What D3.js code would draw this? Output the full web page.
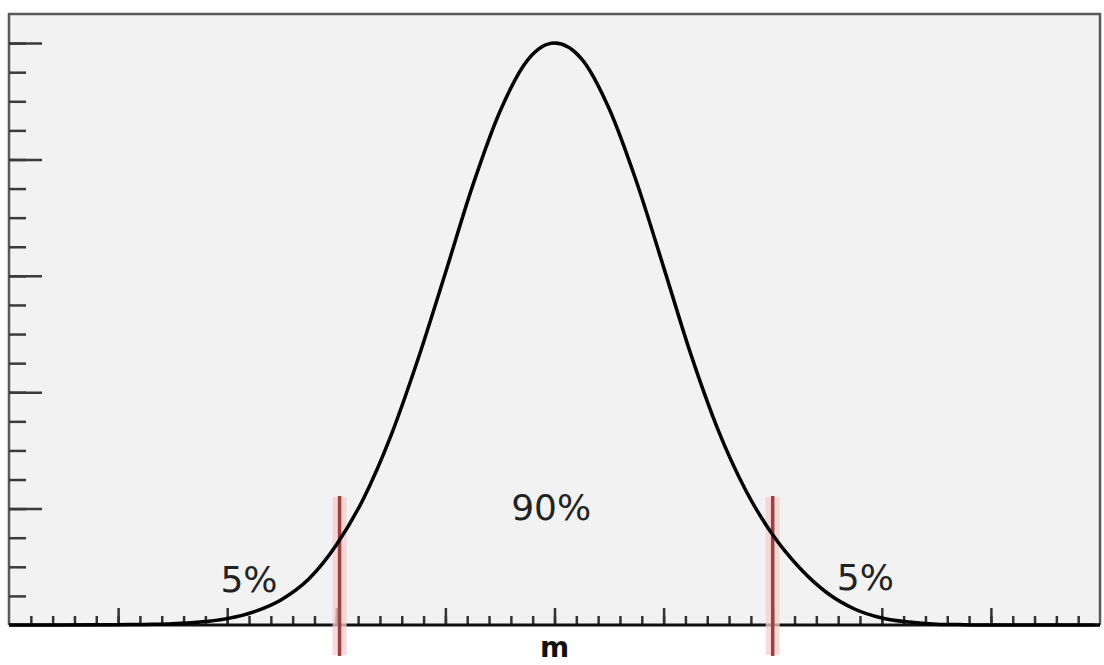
<!DOCTYPE html>
<html>
<head>
<meta charset="utf-8">
<script src="https://cdn.jsdelivr.net/npm/d3@7"></script>
<style>
  body { margin: 0; background: #fff; }
  svg { display: block; }
  text { font-family: "DejaVu Sans", sans-serif; }
</style>
</head>
<body>
<svg width="1104" height="665"></svg>
<script>
// curve (x in sigma units, y in tick units)
const curveX = [-5, -4.5, -4, -3.75, -3.5, -3.25, -3, -2.75, -2.5, -2.25, -2, -1.75, -1.5, -1.25, -1, -0.75, -0.5, -0.25, 0,
                0.25, 0.5, 0.75, 1, 1.25, 1.5, 1.75, 2, 2.25, 2.5, 2.75, 3, 3.25, 3.5, 3.75, 4, 4.5, 5];
const curveY = [0, 0, 0.01, 0.02, 0.04, 0.1, 0.22, 0.46, 0.88, 1.59, 2.75, 4.35, 6.5, 9.15, 12.1, 15.1, 17.65, 19.4, 20,
                19.45, 17.75, 15.25, 12.3, 9.3, 6.7, 4.65, 3.1, 1.95, 1.1, 0.55, 0.24, 0.1, 0.03, 0.01, 0, 0, 0];
const markerX = [-1.97, 2];
const areaLabels = ['5%', '90%', '5%'];
const labelX = [-2.8, -0.03, 2.85];
const labelY = [1.15, 3.6, 1.2];
const xMajorTicks = [-4, -3, -2, -1, 0, 1, 2, 3, 4];
const xMinorTicks = d3.range(-4.8, 5, 0.2).map(v => +v.toFixed(1));
const yMajorTicks = [4, 8, 12, 16, 20];
const yMinorTicks = d3.range(1, 21);
const centerLabel = 'm';

const svg = d3.select('svg');
const plot = { left: 9, right: 1100, top: 14, bottom: 625 };

const xScale = d3.scaleLinear().domain([-5, 5]).range([plot.left, plot.right]);
const yScale = d3.scaleLinear().domain([0, 21]).range([plot.bottom, plot.top]);

// plot background
svg.append('rect')
    .attr('x', plot.left).attr('y', plot.top)
    .attr('width', plot.right - plot.left).attr('height', plot.bottom - plot.top)
    .attr('fill', '#f2f2f2');

// frame
svg.append('path')
    .attr('d', `M${plot.left},${plot.bottom}V${plot.top}H${plot.right}V${plot.bottom}`)
    .attr('fill', 'none')
    .attr('stroke', '#5a5a5a')
    .attr('stroke-width', 2.5);

// y ticks pointing into the plot
const yAxisMinor = d3.axisRight(yScale).tickValues(yMinorTicks).tickSize(17).tickFormat('');
const yAxisMajor = d3.axisRight(yScale).tickValues(yMajorTicks).tickSize(33).tickFormat('');
[yAxisMinor, yAxisMajor].forEach(ax => {
    const g = svg.append('g').attr('transform', `translate(${plot.left}, 0)`).call(ax);
    g.select('.domain').remove();
    g.selectAll('line').attr('stroke', '#3a3a3a').attr('stroke-width', 2.5);
});

// x ticks pointing up from the baseline
const xAxisMinor = d3.axisTop(xScale).tickValues(xMinorTicks).tickSize(9).tickFormat('');
const xAxisMajor = d3.axisTop(xScale).tickValues(xMajorTicks).tickSize(17).tickFormat('');
[xAxisMinor, xAxisMajor].forEach(ax => {
    const g = svg.append('g').attr('transform', `translate(0, ${plot.bottom})`).call(ax);
    g.select('.domain').remove();
    g.selectAll('line').attr('stroke', '#333').attr('stroke-width', 2.5);
});

// baseline
svg.append('line')
    .attr('x1', plot.left).attr('x2', plot.right - 5)
    .attr('y1', plot.bottom).attr('y2', plot.bottom)
    .attr('stroke', '#111')
    .attr('stroke-width', 3);

// red cut-off markers
const markers = svg.append('g');
markers.selectAll('rect').data(markerX)
    .enter().append('rect')
    .attr('x', d => xScale(d) - 7)
    .attr('y', 497)
    .attr('width', 14)
    .attr('height', 158)
    .attr('fill', '#f7cccc')
    .attr('opacity', 0.75);
markers.selectAll('line').data(markerX)
    .enter().append('line')
    .attr('x1', d => xScale(d)).attr('x2', d => xScale(d))
    .attr('y1', 496).attr('y2', 656)
    .attr('stroke', '#9e4040')
    .attr('stroke-width', 3.5);

// density curve
const line = d3.line()
    .x((d, i) => xScale(curveX[i]))
    .y(d => yScale(d))
    .curve(d3.curveMonotoneX);

svg.append('path')
    .datum(curveY)
    .attr('d', line)
    .attr('fill', 'none')
    .attr('stroke', '#000')
    .attr('stroke-width', 3.5)
    .attr('stroke-linejoin', 'round');

// percentage labels
svg.selectAll('.area-label').data(areaLabels)
    .enter().append('text')
    .attr('class', 'area-label')
    .attr('x', (d, i) => xScale(labelX[i]))
    .attr('y', (d, i) => yScale(labelY[i]))
    .attr('text-anchor', 'middle')
    .attr('font-size', 36)
    .attr('fill', '#222')
    .text(d => d);

// mean label
svg.append('text')
    .attr('x', xScale(0))
    .attr('y', 657)
    .attr('text-anchor', 'middle')
    .attr('font-size', 28)
    .attr('font-weight', 'bold')
    .attr('fill', '#111')
    .text(centerLabel);
</script>
</body>
</html>
